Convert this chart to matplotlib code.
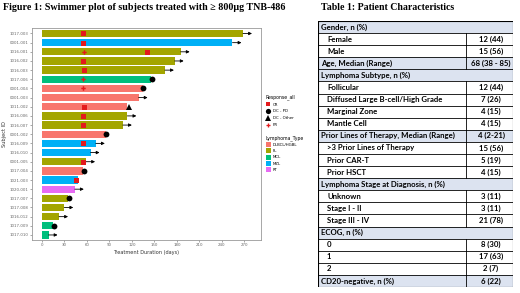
import matplotlib.pyplot as plt
from matplotlib.patches import Rectangle, Patch
from matplotlib.lines import Line2D

# swimmer plot data (top to bottom)
subjects = ['1017-003', '0001-001', '1016-001', '1016-002', '1016-003', '1017-006',
            '0001-004', '0001-003', '1011-002', '1016-006', '1016-007', '0001-002',
            '1016-009', '1016-010', '0001-005', '1017-004', '1021-003', '1020-001',
            '1017-007', '1017-008', '1016-012', '1017-009', '1017-010']
lymphoma = ['FL', 'MZL', 'FL', 'FL', 'FL', 'MCL', 'DLBCL/HGBL', 'DLBCL/HGBL',
            'DLBCL/HGBL', 'FL', 'FL', 'DLBCL/HGBL', 'MZL', 'MZL', 'FL', 'DLBCL/HGBL',
            'MZL', 'RT', 'FL', 'FL', 'FL', 'MCL', 'MCL']
duration = [268, 254, 185, 177, 164, 145, 135, 129, 114, 114, 108, 85, 72, 65,
            59, 55, 48, 44, 35, 30, 23, 15, 9]
ongoing = [1, 1, 1, 1, 1, 0, 0, 1, 0, 1, 1, 0, 1, 1, 1, 0, 0, 1, 0, 1, 1, 0, 1]

resp_row = [0, 1, 2, 3, 4, 8, 9, 10, 12, 14, 16,
            2, 5, 6,
            5, 6, 11, 15, 18, 21,
            8]
resp_day = [55, 55, 140, 55, 56, 56, 55, 55, 55, 55, 46,
            56, 55, 55,
            147, 135, 85, 56, 36, 16,
            116]
resp_type = ['CR'] * 11 + ['PR'] * 3 + ['DC - PD'] * 6 + ['DC - Other']

type_order = ['DLBCL/HGBL', 'FL', 'MCL', 'MZL', 'RT']
type_colors = ['#F8766D', '#A3A500', '#00BF7D', '#00B0F6', '#E76BF3']
resp_order = ['CR', 'DC - PD', 'DC - Other', 'PR']
resp_style = {'CR': ('s', '#E31A1C', 3.6), 'DC - PD': ('o', 'black', 4.2),
              'DC - Other': ('^', 'black', 4.2), 'PR': ('P', '#E31A1C', 3.2)}

x_ticks = [0, 30, 60, 90, 120, 150, 180, 210, 240, 270]

# table data
tab_label = ['Gender, n (%)', 'Female', 'Male', 'Age, Median (Range)',
             'Lymphoma Subtype, n (%)', 'Follicular', 'Diffused Large B-cell/High Grade',
             'Marginal Zone', 'Mantle Cell', 'Prior Lines of Therapy, Median (Range)',
             '>3 Prior Lines of Therapy', 'Prior CAR-T', 'Prior HSCT',
             'Lymphoma Stage at Diagnosis, n (%)', 'Unknown', 'Stage I - II',
             'Stage III - IV', 'ECOG, n (%)', '0', '1', '2', 'CD20-negative, n (%)']
tab_value = ['', '12 (44)', '15 (56)', '68 (38 - 85)', '', '12 (44)', '7 (26)',
             '4 (15)', '4 (15)', '4 (2-21)', '15 (56)', '5 (19)', '4 (15)', '',
             '3 (11)', '3 (11)', '21 (78)', '', '8 (30)', '17 (63)', '2 (7)', '6 (22)']
tab_header = [1, 0, 0, 1, 1, 0, 0, 0, 0, 1, 0, 0, 0, 1, 0, 0, 0, 1, 0, 0, 0, 1]

W, H = 520, 293
fig = plt.figure(figsize=(W / 100, H / 100), dpi=100)

fig.text(3 / W, 1 - 7 / H, 'Figure 1: Swimmer plot of subjects treated with \u2265 800\u03bcg TNB-486',
         family='Liberation Serif', weight='bold', fontsize=7.2, va='center', ha='left')
fig.text(321 / W, 1 - 7 / H, 'Table 1: Patient Characteristics',
         family='Liberation Serif', weight='bold', fontsize=7.1, va='center', ha='left')

# swimmer plot
ax = fig.add_axes([32 / W, 1 - 240 / H, 229 / W, 212 / H])
cmap = dict(zip(type_order, type_colors))
ypos = list(range(len(subjects)))
ax.barh(ypos, duration, height=0.8, color=[cmap[t] for t in lymphoma], zorder=2)
for y, d, o in zip(ypos, duration, ongoing):
    if o:
        ax.annotate('', xy=(d + 12, y), xytext=(d, y),
                    arrowprops=dict(arrowstyle='-|>', color='black', lw=0.6,
                                    mutation_scale=4.5, shrinkA=0, shrinkB=0), zorder=3)
for r, d, t in zip(resp_row, resp_day, resp_type):
    m, c, s = resp_style[t]
    ax.plot(d, r, marker=m, color=c, markersize=s, linestyle='none', zorder=4,
            markeredgewidth=0)

ax.set_xlim(-13, 292)
ax.set_ylim(len(subjects) - 0.45, -0.6)
ax.set_xticks(x_ticks)
ax.set_xticklabels([str(v) for v in x_ticks])
ax.set_yticks(ypos)
ax.set_yticklabels(subjects)
ax.tick_params(labelsize=2.8, colors='#666666', length=1.5, width=0.4, pad=1)
for sp in ax.spines.values():
    sp.set_color('#999999')
    sp.set_linewidth(0.6)
ax.set_xlabel('Treatment Duration (days)', fontsize=3.6, color='#333333', labelpad=2)
ax.set_ylabel('Subject ID', fontsize=3.6, color='#333333', labelpad=2)

# legends
h1 = [Line2D([], [], marker=resp_style[k][0], color=resp_style[k][1], linestyle='none',
             markersize=resp_style[k][2] * 0.9, markeredgewidth=0, label=k) for k in resp_order]
leg1 = fig.legend(handles=h1, title='Response_all', loc='upper left',
                  bbox_to_anchor=(264 / W, 1 - 92 / H), fontsize=2.8, title_fontsize=3.3,
                  frameon=False, handlelength=1.2, handletextpad=0.6, labelspacing=0.75,
                  borderpad=0)
leg1._legend_box.align = 'left'
h2 = [Patch(facecolor=c, label=t) for t, c in zip(type_order, type_colors)]
leg2 = fig.legend(handles=h2, title='Lymphoma_Type', loc='upper left',
                  bbox_to_anchor=(264 / W, 1 - 133 / H), fontsize=2.8, title_fontsize=3.3,
                  frameon=False, handlelength=1.2, handleheight=1.6, handletextpad=0.6,
                  labelspacing=0.35, borderpad=0)
leg2._legend_box.align = 'left'

# table
tx0, tx1, ty0, ty1 = 318, 513, 21, 287
tax = fig.add_axes([tx0 / W, 1 - ty1 / H, (tx1 - tx0) / W, (ty1 - ty0) / H])
tax.set_xlim(tx0, tx1)
tax.set_ylim(ty1, ty0)
tax.axis('off')
n = len(tab_label)
rh = (ty1 - ty0) / n
div = 466
for i, (lab, val, hd) in enumerate(zip(tab_label, tab_value, tab_header)):
    top = ty0 + i * rh
    if hd:
        tax.add_patch(Rectangle((tx0, top), tx1 - tx0, rh, facecolor='#DCE3F0',
                                edgecolor='none', zorder=1))
    tax.plot([tx0, tx1], [top, top], color='black', lw=0.6, zorder=2)
    if val:
        tax.plot([div, div], [top, top + rh], color='black', lw=0.6, zorder=2)
        tax.text(491, top + rh / 2, val, ha='center', va='center', fontsize=5.6,
                 family='Lato', weight='bold', zorder=3)
    tax.text(tx0 + (3 if hd else 9), top + rh / 2, lab, ha='left', va='center',
             fontsize=5.6, family='Lato', weight='bold', zorder=3)
tax.add_patch(Rectangle((tx0, ty0), tx1 - tx0, ty1 - ty0, facecolor='none',
                        edgecolor='black', lw=0.8, zorder=4))

plt.savefig('out.png', dpi=100)
plt.close()
